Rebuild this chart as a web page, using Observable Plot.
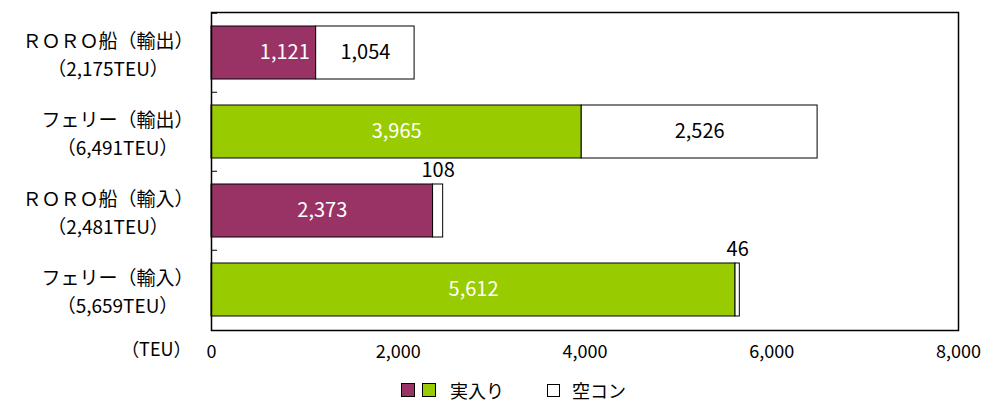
<!DOCTYPE html>
<html><head><meta charset="utf-8">
<script src="https://cdn.jsdelivr.net/npm/d3@7"></script>
<script src="https://cdn.jsdelivr.net/npm/@observablehq/plot@0.6"></script>
<style>
body{margin:0;background:#fff;font-family:'Noto Sans CJK JP',sans-serif;}
#legend{height:26px;display:flex;align-items:center;padding-left:401px;font-size:18px;line-height:26px;color:#000;}
.sw{width:13px;height:13px;border:1px solid #000;box-sizing:border-box;display:inline-block;}
</style></head>
<body><div id="chart" style="height:377px"></div>
<div id="legend"></div>
<script>
const categories = ["ＲＯＲＯ船（輸出）","フェリー（輸出）","ＲＯＲＯ船（輸入）","フェリー（輸入）"];
const totalLabels = ["（2,175TEU）","（6,491TEU）","（2,481TEU）","（5,659TEU）"];
const loaded = [1121, 3965, 2373, 5612];
const empty = [1054, 2526, 108, 46];
const loadedColors = ["#993366","#99CC00","#993366","#99CC00"];
const xTicks = [0, 2000, 4000, 6000, 8000];
const seriesNames = ["実入り", "空コン"];
const unitLabel = "（TEU）";

const rows = [];
categories.forEach((c, i) => {
  rows.push({cat: c, type: seriesNames[0], x1: 0, x2: loaded[i], v: loaded[i], fill: loadedColors[i], i});
  rows.push({cat: c, type: seriesNames[1], x1: loaded[i], x2: loaded[i] + empty[i], v: empty[i], fill: "#ffffff", i});
});
const fmt = d3.format(",");
const small = 300;
const insideLoaded = rows.filter(r => r.type === seriesNames[0]);
const insideEmpty = rows.filter(r => r.type === seriesNames[1] && r.v >= small);
const aboveEmpty = rows.filter(r => r.type === seriesNames[1] && r.v < small);

const plot = Plot.plot({
  width: 990, height: 377,
  marginLeft: 211, marginRight: 32, marginTop: 12, marginBottom: 47,
  style: {fontFamily: "'Noto Sans CJK JP', sans-serif", fontSize: "18px", color: "#000", background: "#fff"},
  x: {domain: [0, 8000]},
  y: {domain: categories, paddingInner: 0.333, paddingOuter: 0.1667},
  color: {type: "identity"},
  marks: [
    Plot.barX(rows, {x1: "x1", x2: "x2", y: "cat", fill: "fill", stroke: "#000", strokeWidth: 1}),
    Plot.text(insideLoaded.filter(r => r.i !== 0), {x: r => (r.x1 + r.x2) / 2, y: "cat", text: r => fmt(r.v), fill: "#fff", fontSize: 20}),
    Plot.text(insideLoaded.filter(r => r.i === 0), {x: r => (r.x1 + r.x2) / 2, y: "cat", text: r => fmt(r.v), fill: "#fff", fontSize: 20, dx: 21}),
    Plot.text(insideEmpty, {x: r => (r.x1 + r.x2) / 2, y: "cat", text: r => fmt(r.v), fill: "#000", fontSize: 20}),
    Plot.text(aboveEmpty, {x: r => (r.x1 + r.x2) / 2, y: "cat", text: r => fmt(r.v), fill: "#000", fontSize: 20, dy: -40}),
    Plot.axisX({ticks: xTicks, tickFormat: fmt, tickSize: 0, tickPadding: 15, fontSize: 18, label: null}),
    Plot.axisY({tickSize: 6, dx: 6, dy: -39.75, tickFormat: () => "", label: null, stroke: "#000"}),
    Plot.text(categories, {y: d => d, text: (d, i) => d + "\n" + totalLabels[i], frameAnchor: "left", textAnchor: "end", dx: -18, fontSize: 19, lineHeight: 1.45, className: "ylab"}),
    Plot.text([unitLabel], {frameAnchor: "bottom-left", textAnchor: "end", dx: -20, dy: 25, fontSize: 18}),
    Plot.frame({stroke: "#000", strokeWidth: 1.5})
  ]
});
document.getElementById("chart").appendChild(plot);

// center the two lines of each category label against each other
plot.querySelectorAll(".ylab text").forEach(t => {
  const w = t.getBBox().width;
  t.setAttribute("text-anchor", "middle");
  t.setAttribute("transform", (t.getAttribute("transform") || "") + ` translate(${-w / 2},0)`);
});

const lg = document.getElementById("legend");
lg.innerHTML =
  `<span class="sw" style="background:${loadedColors[0]};width:14px;height:14px"></span>` +
  `<span class="sw" style="background:${loadedColors[1]};width:14px;height:14px;margin-left:7px"></span>` +
  `<span style="margin-left:14px">${seriesNames[0]}</span>` +
  `<span class="sw" style="background:#fff;margin-left:43px"></span>` +
  `<span style="margin-left:12px">${seriesNames[1]}</span>`;
</script>
</body></html>
